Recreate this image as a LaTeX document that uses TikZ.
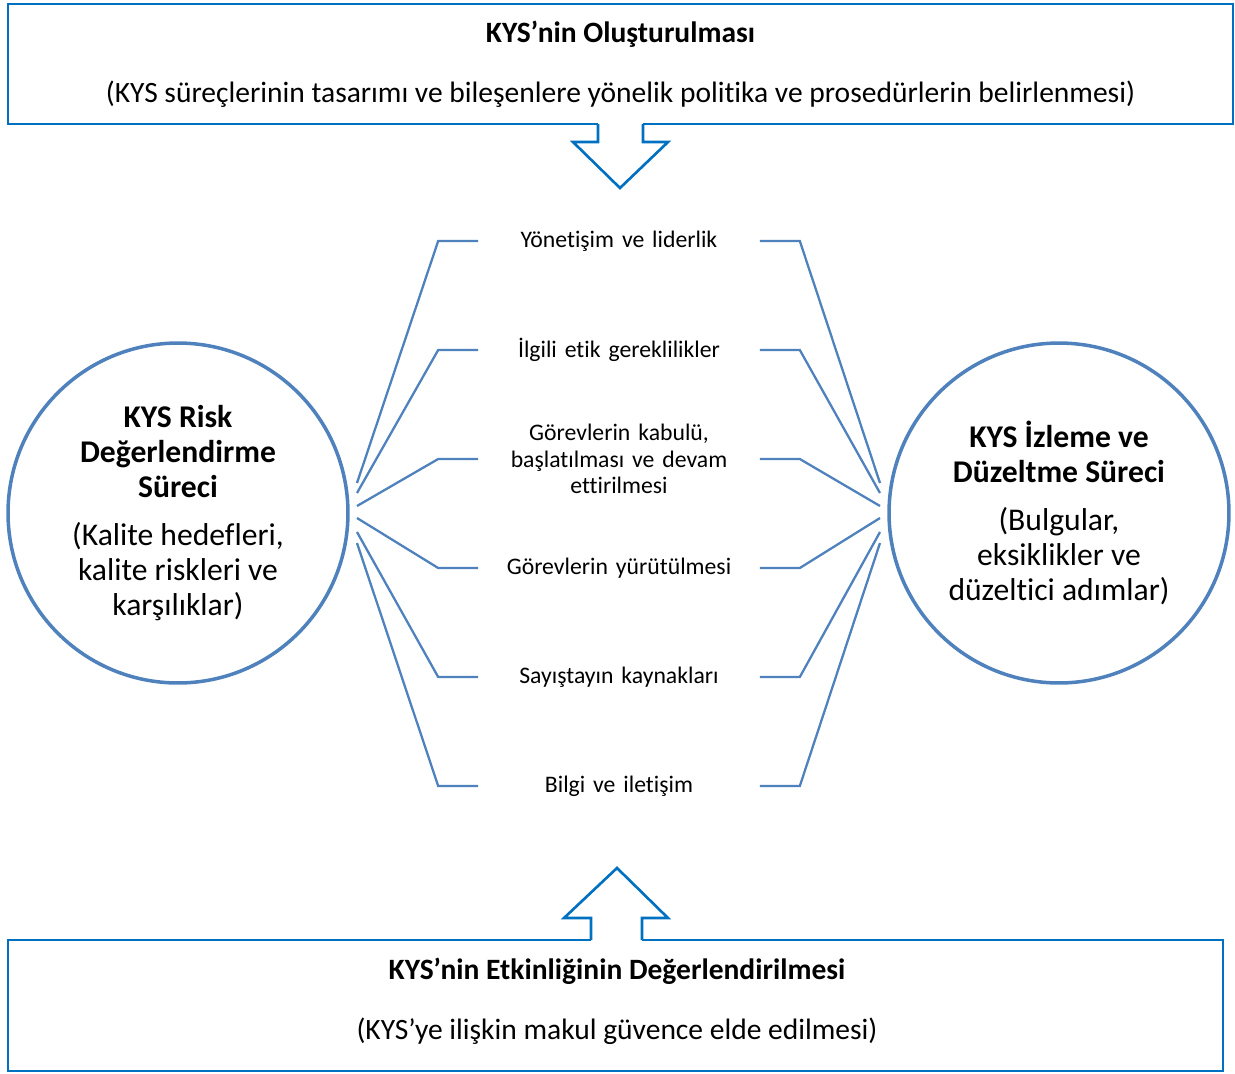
\documentclass[tikz,border=0pt]{standalone}
\usepackage{fontspec}
\setmainfont[Ligatures=NoCommon]{Carlito}
\usetikzlibrary{positioning}
\definecolor{boxblue}{HTML}{0070C0}
\definecolor{ringblue}{HTML}{4F81BD}
\tikzset{
  framebox/.style={draw=boxblue, line width=1.5pt, inner sep=0pt, align=center,
    font=\fontsize{16.8}{20}\selectfont},
  ring/.style={circle, draw=ringblue, line width=2pt, minimum size=6.8cm,
    inner sep=0pt, align=center, font=\fontsize{18}{20.1}\selectfont},
  itemlabel/.style={text width=5.62cm, inner sep=0pt, align=center,
    font=\fontsize{13.5}{15}\selectfont},
  spoke/.style={draw=ringblue, line width=1.3pt},
  bigarrow/.style={draw=boxblue, line width=1.5pt, fill=white}
}
\begin{document}
\begin{tikzpicture}[x=0.02cm, y=-0.02cm]
\useasboundingbox (0,0) rectangle (1235,1073);

% top and bottom boxes
\node[framebox, minimum width=24.5cm, minimum height=2.4cm] (setup) at (620.5,64)
  {\textbf{KYS’nin Oluşturulması}\\[14pt](KYS süreçlerinin tasarımı ve bileşenlere yönelik politika ve prosedürlerin belirlenmesi)};
\node[framebox, minimum width=24.3cm, minimum height=2.62cm] (eval) at (615.5,1005.5) {};
\node[framebox, draw=none] (evaltext) at (617,1001)
  {\textbf{KYS’nin Etkinliğinin Değerlendirilmesi}\\[14pt](KYS’ye ilişkin makul güvence elde edilmesi)};

% block arrows
\fill[white] (598,121) rectangle (643,127);
\draw[bigarrow] (598,124) -- (598,142) -- (573,142) -- (620,188) -- (668,142) -- (643,142) -- (643,124);
\fill[white] (591,937) rectangle (642,943);
\draw[bigarrow] (591,940) -- (591,918) -- (564,918) -- (617,868) -- (668,918) -- (642,918) -- (642,940);

% circles
\node[ring] (risk) at (178,513)
  {\textbf{KYS Risk}\\\textbf{Değerlendirme}\\\textbf{Süreci}\\[7pt](Kalite hedefleri,\\kalite riskleri ve\\karşılıklar)};
\node[ring] (monitor) at (1059,513)
  {\textbf{KYS İzleme ve}\\\textbf{Düzeltme Süreci}\\[7pt](Bulgular,\\eksiklikler ve\\düzeltici adımlar)};

% components
\foreach \i/\ypos/\yend/\txt in {
  1/241/483/{Yönetişim ve liderlik},
  2/350/493/{İlgili etik gereklilikler},
  3/459/506/{Görevlerin kabulü,\\başlatılması ve devam\\ettirilmesi},
  4/568/518/{Görevlerin yürütülmesi},
  5/677/532/{Sayıştayın kaynakları},
  6/786/543/{Bilgi ve iletişim}}{
  \node[itemlabel] (item\i) at (619,\ypos) {\txt};
  \coordinate (lend\i) at (357,\yend);
  \coordinate (rend\i) at (880,\yend);
  \draw[spoke] (item\i.west) -- ++(-40,0) -- (lend\i);
  \draw[spoke] (item\i.east) -- ++(40,0) -- (rend\i);
}
\end{tikzpicture}
\end{document}
